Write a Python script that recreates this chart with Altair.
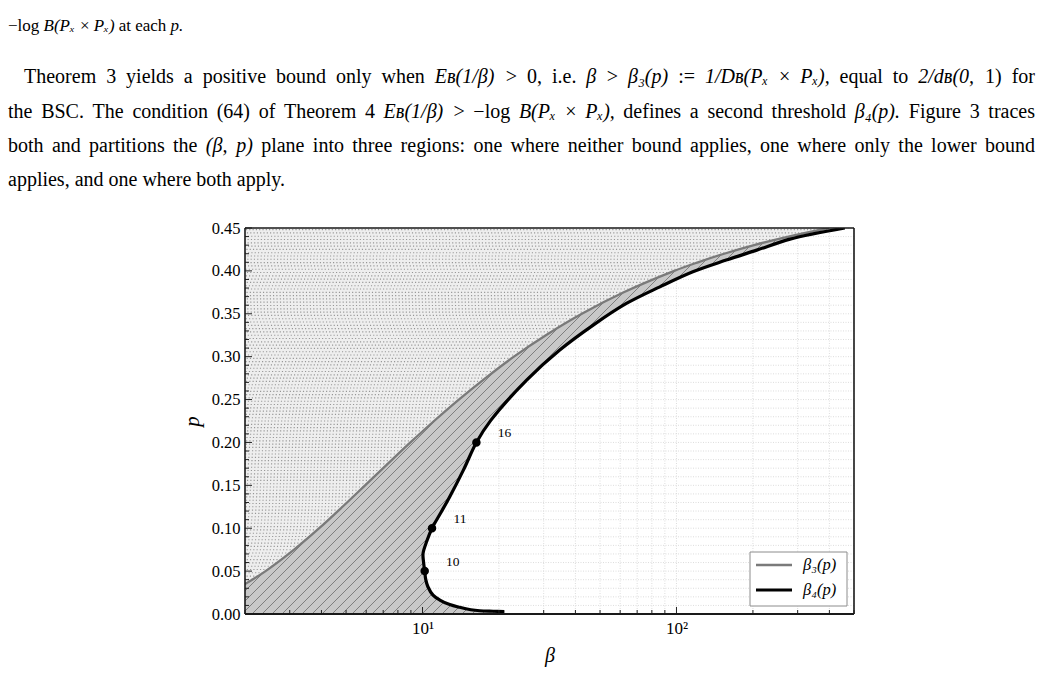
import altair as alt
import numpy as np
import pandas as pd

# ---------------- data ----------------
# beta_3(p) curve (grey); the first rows lie left of the plotted range and are clipped
b3_p = [0.0, 0.01, 0.02, 0.035, 0.05, 0.075, 0.10, 0.125, 0.15, 0.175, 0.20, 0.225,
        0.25, 0.275, 0.30, 0.325, 0.35, 0.375, 0.40, 0.41, 0.42, 0.43, 0.44, 0.45]
b3_beta = [0.8, 1.24, 1.57, 2.0, 2.41, 3.12, 3.92, 4.84, 5.94, 7.29, 8.96, 11.1,
           13.9, 17.7, 22.9, 30.6, 42.4, 62.0, 98.0, 121.5, 154.0, 202.0, 276.0, 398.0]

# beta_4(p) curve (black)
b4_p = [0.0028, 0.0032, 0.0038, 0.005, 0.0078, 0.011, 0.0163, 0.022, 0.0318, 0.04,
        0.05, 0.06, 0.0707, 0.085, 0.10, 0.118, 0.1367, 0.168, 0.20, 0.226, 0.2727,
        0.3077, 0.3368, 0.362, 0.3814, 0.399, 0.4126, 0.4242, 0.437, 0.45]
b4_beta = [21.0, 19.0, 16.8, 15.5, 14.0, 12.8, 11.7, 11.0, 10.5, 10.3,
           10.2, 10.1, 10.05, 10.4, 10.9, 11.8, 12.8, 14.5, 16.3, 18.6, 25.7,
           34.7, 47.0, 63.5, 86.0, 116.0, 157.0, 207.0, 280.0, 460.0]

# marked points on beta_4 and their labels
mk_p = [0.05, 0.10, 0.20]
mk_beta = [10.2, 10.9, 16.3]
mk_label = ["10", "11", "16"]

series_names = ["β₃(p)", "β₄(p)"]
series_colors = ["#7a7a7a", "#000000"]
series_widths = [2.3, 3.2]

# ticks
y_major = [0.00, 0.05, 0.10, 0.15, 0.20, 0.25, 0.30, 0.35, 0.40, 0.45]
y_minor = [round(k * 0.01, 2) for k in range(1, 45) if k % 5 != 0]
x_major = [10, 100]
x_minor = [2, 3, 4, 5, 6, 7, 8, 9, 20, 30, 40, 50, 60, 70, 80, 90, 200, 300, 400, 500]

# surrounding page text ("~" marks an italic (math) token)
caption_line = "−log ~B(Pₓ × ~Pₓ) at each ~p."
para_lines = [
    "Theorem 3 yields a positive bound only when ~Eʙ(1/β) > 0, i.e. ~β > ~β₃(p) := "
    "~1/Dʙ(Pₓ × ~Pₓ), equal to ~2/dʙ(0, 1) for",
    "the BSC. The condition (64) of Theorem 4 ~Eʙ(1/β) > −log ~B(Pₓ × ~Pₓ), defines a "
    "second threshold ~β₄(p). Figure 3 traces",
    "both and partitions the ~(β, ~p) plane into three regions: one where neither bound "
    "applies, one where only the lower bound",
    "applies, and one where both apply.",
]

# ---------------- layout ----------------
W, H = 609, 386
PAD = {"left": 245, "top": 228, "right": 188, "bottom": 81}
SERIF = "Liberation Serif"
P_TOP = 0.45
B_LO, B_HI = 2.0, 500.0

xs = alt.Scale(type="log", domain=[B_LO, B_HI], nice=False)
ys = alt.Scale(domain=[0, P_TOP], nice=False, zero=False)

AX_X = alt.Axis(
    values=x_major, labelExpr="datum.value == 10 ? '10¹' : '10²'",
    ticks=False, domain=False, grid=False, labelFlush=False, labelOverlap=False,
    title="β", titleFontStyle="italic", titleFontWeight="normal",
    titleFont=SERIF, titleFontSize=20, titleColor="black", titlePadding=9,
    labelFont=SERIF, labelFontSize=17, labelColor="black", labelPadding=6)
AX_Y = alt.Axis(
    values=y_major, format=".2f", ticks=False, domain=False, grid=False,
    labelFlush=False, labelOverlap=False,
    title="p", titleFontStyle="italic", titleFontWeight="normal",
    titleFont=SERIF, titleFontSize=21, titleColor="black", titlePadding=9,
    labelFont=SERIF, labelFontSize=16.5, labelColor="black", labelPadding=5)


def X(f):
    return alt.X(f, type="quantitative", scale=xs, axis=AX_X, title="β")


def Y(f):
    return alt.Y(f, type="quantitative", scale=ys, axis=AX_Y, title="p")


df3 = pd.DataFrame({"p": b3_p, "beta": b3_beta})
df4 = pd.DataFrame({"p": b4_p, "beta": b4_beta})
df4_area = pd.DataFrame({"p": [0.0] + b4_p, "beta": [b4_beta[0]] + b4_beta})
mk_df = pd.DataFrame({"p": mk_p, "beta": mk_beta, "lab": mk_label})

# ---- hatch lines (45 degrees in screen space), kept left of beta_4 ----
LX0, LX1 = np.log10(B_LO), np.log10(B_HI)


def to_X(b):
    return (np.log10(b) - LX0) / (LX1 - LX0) * W


def to_beta(Xp):
    return 10 ** (LX0 + Xp / W * (LX1 - LX0))


Yb4 = np.array(df4_area["p"]) / P_TOP * H
Xb4 = to_X(np.array(df4_area["beta"]))
Ys = np.linspace(0, H, H * 4 + 1)
X4 = np.interp(Ys, Yb4, Xb4)
segs = []
c = -H + 3.0
while c < W:
    Xl = c + Ys
    inside = (Xl >= 0) & (Xl <= W) & (Xl <= X4)
    edges = np.flatnonzero(np.diff(np.concatenate([[0], inside.astype(int), [0]])))
    for s, e in zip(edges[::2], edges[1::2]):
        if e - 1 > s:
            segs.append((to_beta(Xl[s]), Ys[s] / H * P_TOP,
                         to_beta(Xl[e - 1]), Ys[e - 1] / H * P_TOP))
    c += 10.0
hatch_df = pd.DataFrame(segs, columns=["b0", "p0", "b1", "p1"])

# ---- dotted texture rows in the region left of beta_3 ----
row_Y = np.arange(1.6, H, 3.3)
row_p = row_Y / H * P_TOP
row_end = 10 ** np.interp(row_p, b3_p, np.log10(b3_beta))
keep = row_end > B_LO
tex_df = pd.DataFrame({"p": row_p[keep], "b": row_end[keep]})

# ---------------- layers ----------------
grid_x = alt.Chart(pd.DataFrame({"v": x_major + x_minor})).mark_rule(
    color="#d4d4d4", strokeWidth=0.8, strokeDash=[1, 1.5]).encode(x=X("v"))
grid_y = alt.Chart(pd.DataFrame({"v": y_major + y_minor})).mark_rule(
    color="#d4d4d4", strokeWidth=0.8, strokeDash=[1, 1.5]).encode(y=Y("v"))

grey_area = alt.Chart(df4_area).mark_area(
    orient="horizontal", color="#c8c8c8", opacity=1, interpolate="catmull-rom", clip=True
).encode(y=Y("p"), x=X("beta"), x2=alt.X2Datum(B_LO))

hatch = alt.Chart(hatch_df).mark_rule(color="#666666", strokeWidth=0.75, clip=True).encode(
    x=X("b0"), y=Y("p0"), x2=alt.X2("b1:Q"), y2=alt.Y2("p1:Q"))

dot_area = alt.Chart(df3).mark_area(
    orient="horizontal", color="#eeeeee", opacity=1, interpolate="catmull-rom", clip=True
).encode(y=Y("p"), x=X("beta"), x2=alt.X2Datum(B_LO))

texture = alt.Chart(tex_df).mark_rule(
    color="#969696", strokeWidth=1.15, strokeDash=[1.15, 2.15], clip=True
).encode(y=Y("p"), x=X("b"), x2=alt.X2Datum(B_LO))

line3 = alt.Chart(df3).mark_line(
    interpolate="catmull-rom", clip=True, color=series_colors[0], strokeWidth=series_widths[0]
).encode(x=X("beta"), y=Y("p"), order=alt.Order("p:Q"))
line4 = alt.Chart(df4).mark_line(
    interpolate="catmull-rom", clip=True, color=series_colors[1], strokeWidth=series_widths[1]
).encode(x=X("beta"), y=Y("p"), order=alt.Order("p:Q"))

pts = alt.Chart(mk_df).mark_point(filled=True, fill="black", stroke="black", size=42,
                                  opacity=1).encode(x=X("beta"), y=Y("p"))
pt_lab = alt.Chart(mk_df).mark_text(dx=28, dy=-9, font=SERIF, fontSize=13.5,
                                    fill="black").encode(x=X("beta"), y=Y("p"), text="lab:N")

tick_c = "#222222"
ty_major = alt.Chart(pd.DataFrame({"v": y_major})).mark_rule(color=tick_c, strokeWidth=1).encode(
    y=Y("v"), x=alt.value(0), x2=alt.value(7))
ty_minor = alt.Chart(pd.DataFrame({"v": y_minor})).mark_rule(color=tick_c, strokeWidth=1).encode(
    y=Y("v"), x=alt.value(0), x2=alt.value(4))
tx_major = alt.Chart(pd.DataFrame({"v": x_major})).mark_rule(color=tick_c, strokeWidth=1).encode(
    x=X("v"), y=alt.value(H), y2=alt.value(H - 7))
tx_minor = alt.Chart(pd.DataFrame({"v": x_minor})).mark_rule(color=tick_c, strokeWidth=1).encode(
    x=X("v"), y=alt.value(H), y2=alt.value(H - 4))

one = pd.DataFrame({"a": [0]})
frame_c = "#1a1a1a"
frame = [
    alt.Chart(one).mark_rule(color=frame_c, strokeWidth=1.6).encode(
        x=alt.value(0), x2=alt.value(W), y=alt.value(0)),
    alt.Chart(one).mark_rule(color=frame_c, strokeWidth=1.8).encode(
        x=alt.value(0), x2=alt.value(W), y=alt.value(H)),
    alt.Chart(one).mark_rule(color=frame_c, strokeWidth=1.6).encode(
        x=alt.value(0), y=alt.value(0), y2=alt.value(H)),
    alt.Chart(one).mark_rule(color=frame_c, strokeWidth=1.6).encode(
        x=alt.value(W), y=alt.value(0), y2=alt.value(H)),
]

# ---- legend box (bottom right) ----
lg_x0, lg_y0, lg_x1, lg_y1 = 505, 324, 602, 378
legend = [
    alt.Chart(one).mark_rect(fill="white", stroke="#8c8c8c", strokeWidth=1).encode(
        x=alt.value(lg_x0), x2=alt.value(lg_x1), y=alt.value(lg_y0), y2=alt.value(lg_y1)),
]
for i, (nm, colr, wd) in enumerate(zip(series_names, series_colors, series_widths)):
    yy = 337 + 25 * i
    legend.append(alt.Chart(one).mark_rule(color=colr, strokeWidth=wd).encode(
        x=alt.value(511), x2=alt.value(547), y=alt.value(yy)))
    legend.append(alt.Chart(pd.DataFrame({"t": [nm]})).mark_text(
        x=558, y=yy + 5, align="left", baseline="alphabetic", font=SERIF, fontSize=16.5,
        fontStyle="italic", fill="black").encode(text="t:N"))

# ---- page text, justified word by word (Times advance widths, per 1000 em) ----
_W = {" ": 250, "!": 333, "(": 333, ")": 333, ",": 250, "-": 333, ".": 250, "/": 278,
      ":": 278, ";": 278, "<": 564, "=": 564, ">": 564, "?": 444,
      "A": 722, "B": 667, "C": 667, "D": 722, "E": 611, "F": 556, "G": 722, "H": 722,
      "I": 333, "J": 389, "K": 722, "L": 611, "M": 889, "N": 722, "O": 722, "P": 556,
      "Q": 722, "R": 667, "S": 556, "T": 611, "U": 722, "V": 722, "W": 944, "X": 722,
      "Y": 722, "Z": 611, "a": 444, "b": 500, "c": 444, "d": 500, "e": 444, "f": 333,
      "g": 500, "h": 500, "i": 278, "j": 278, "k": 500, "l": 278, "m": 778, "n": 500,
      "o": 500, "p": 500, "q": 500, "r": 333, "s": 389, "t": 278, "u": 500, "v": 500,
      "w": 722, "x": 500, "y": 500, "z": 444, "β": 520, "×": 564, "−": 564, "ₓ": 330,
      "₃": 330, "₄": 330, "ʙ": 480}


def tw(s, size):
    return sum(_W.get(ch, 500) for ch in s) * size / 1000.0


def word(s, x, y, size, italic):
    return alt.Chart(pd.DataFrame({"t": [s]})).mark_text(
        x=x, y=y, align="left", baseline="alphabetic", font=SERIF, fontSize=size,
        fontStyle="italic" if italic else "normal", fill="black").encode(text="t:N")


def text_line(line, x0, x1, y, size, justify=True):
    toks = [(t[1:], True) if t.startswith("~") else (t, False) for t in line.split(" ")]
    widths = [tw(t, size) for t, _ in toks]
    if justify and len(toks) > 1:
        gap = (x1 - x0 - sum(widths)) / (len(toks) - 1)
    else:
        gap = 0.25 * size
    out, x = [], x0
    for (t, it), w in zip(toks, widths):
        out.append(word(t, x - PAD["left"], y - PAD["top"], size, it))
        x += w + gap
    return out


BODY = 20
texts = []
texts += text_line(caption_line, 8, 0, 31, 17, justify=False)
texts += text_line(para_lines[0], 24, 1035, 83, BODY)
texts += text_line(para_lines[1], 8, 1035, 118, BODY)
texts += text_line(para_lines[2], 8, 1035, 152, BODY)
texts += text_line(para_lines[3], 8, 0, 186, BODY, justify=False)

chart = alt.layer(
    grid_x, grid_y, grey_area, hatch, dot_area, texture, line3, line4, pts, pt_lab,
    ty_major, ty_minor, tx_major, tx_minor, *frame, *legend, *texts
).properties(
    width=W, height=H, padding=PAD, autosize=alt.AutoSizeParams(type="none"),
    background="white"
).configure_view(stroke=None)

chart.save("out.html", embed_options={"renderer": "svg", "actions": False})
